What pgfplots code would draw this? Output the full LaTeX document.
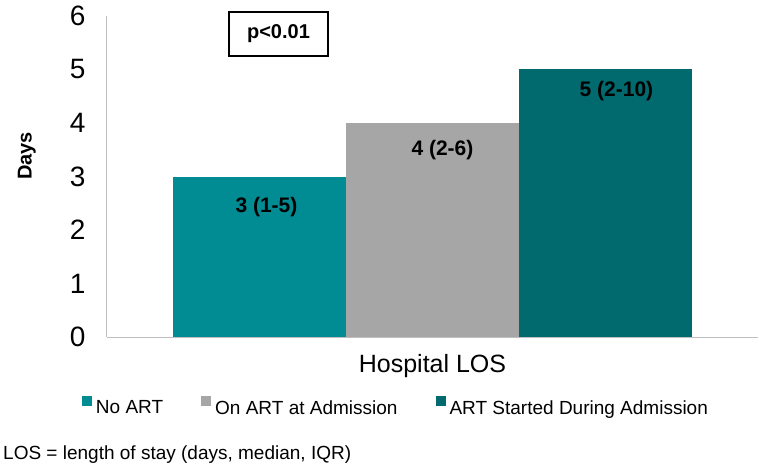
\documentclass[border=0pt]{standalone}
\usepackage{pgfplots}
\pgfplotsset{compat=1.18}
\usepackage{fontspec}
\setmainfont{Liberation Sans}
\definecolor{c1}{RGB}{0,140,146}
\definecolor{c2}{RGB}{166,166,166}
\definecolor{c3}{RGB}{0,106,110}
\definecolor{axgray}{RGB}{191,191,191}
\pgfplotsset{sq legend/.style={legend image code/.code={\fill[##1] (0bp,1.5bp) rectangle (10bp,11.5bp);}}}
\begin{document}
\begin{tikzpicture}
\path[use as bounding box] (-107bp,-131bp) rectangle (655bp,337bp);
\begin{axis}[
  at={(0,0)}, anchor=south west,
  scale only axis, width=651bp, height=321bp,
  xmin=-1, xmax=1, ymin=0, ymax=6,
  ytick={0,1,2,3,4,5,6},
  xtick=\empty,
  axis x line=bottom, axis y line=left,
  axis line style={draw=axgray, line width=1bp, -},
  major tick length=0pt,
  ybar=0pt, bar width=173bp,
  /pgf/number format/assume math mode=true,
  yticklabel style={font=\fontsize{28bp}{30bp}\selectfont, xshift=-18bp},
  ylabel={Days},
  ylabel style={font=\bfseries\fontsize{20bp}{22bp}\selectfont, at={(axis description cs:-0.123,0.564)}, anchor=center},
  xlabel={Hospital LOS},
  xlabel style={font=\fontsize{25bp}{27bp}\selectfont, at={(axis description cs:0.5,-0.112)}, anchor=base},
  legend style={at={(axis description cs:-0.0384,-0.215)}, anchor=west, draw=none, inner sep=0pt, outer sep=0pt,
    font=\fontsize{19bp}{21bp}\selectfont,
    /tikz/every even column/.append style={column sep=38bp},
    /tikz/every odd column/.append style={column sep=4bp},
    nodes={inner sep=0pt}},
  legend columns=3,
]
\addplot[fill=c1, draw=none, sq legend, nodes near coords={3 (1-5)},
  every node near coord/.append style={anchor=base, yshift=-36bp, xshift=7bp, font=\bfseries\fontsize{21bp}{23bp}\selectfont, text=black}]
  coordinates {(0,3)};
\addplot[fill=c2, draw=none, sq legend, nodes near coords={4 (2-6)},
  every node near coord/.append style={anchor=base, yshift=-33bp, xshift=10bp, font=\bfseries\fontsize{21bp}{23bp}\selectfont, text=black}]
  coordinates {(0,4)};
\addplot[fill=c3, draw=none, sq legend, nodes near coords={5 (2-10)},
  every node near coord/.append style={anchor=base, yshift=-27bp, xshift=11bp, font=\bfseries\fontsize{21bp}{23bp}\selectfont, text=black}]
  coordinates {(0,5)};
\legend{No ART, On ART at Admission, ART Started During Admission}
\end{axis}
\node[draw=black, line width=1.5bp, minimum width=99bp, minimum height=44bp, font=\bfseries\fontsize{20bp}{22bp}\selectfont] at (171.5bp,303bp) {p<0.01};
\node[anchor=base west, inner sep=0pt, font=\fontsize{19bp}{21bp}\selectfont] at (-104bp,-122bp) {LOS = length of stay (days, median, IQR)};
\end{tikzpicture}
\end{document}
